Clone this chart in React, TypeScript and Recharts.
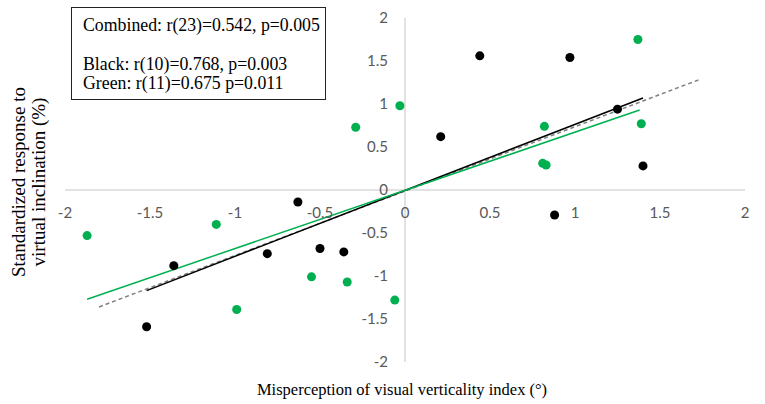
import React from "react";
import {
  ScatterChart,
  Scatter,
  XAxis,
  YAxis,
  ZAxis,
  ReferenceLine,
  ReferenceDot,
} from "recharts";

// black group (n=12)
const blackX = [0.44, 0.97, 0.21, 1.25, 1.4, 0.88, -0.63, -0.5, -0.36, -0.81, -1.36, -1.52];
const blackY = [1.56, 1.54, 0.62, 0.94, 0.28, -0.29, -0.14, -0.68, -0.72, -0.74, -0.88, -1.59];

// green group (n=13)
const greenX = [-0.03, -0.29, 1.37, 0.82, 1.39, 0.81, 0.83, -1.87, -1.11, -0.55, -0.34, -0.99, -0.06];
const greenY = [0.98, 0.73, 1.75, 0.74, 0.77, 0.31, 0.29, -0.53, -0.4, -1.01, -1.07, -1.39, -1.28];

// regression lines (start, end)
const blackFitX = [-1.52, 1.4];
const blackFitY = [-1.17, 1.07];
const greenFitX = [-1.87, 1.38];
const greenFitY = [-1.27, 0.93];
const combinedFitX = [-1.8, 1.74];
const combinedFitY = [-1.36, 1.29];

const xTicks = [-2, -1.5, -1, -0.5, 0, 0.5, 1, 1.5, 2];
const yTicks = [-2, -1.5, -1, -0.5, 0, 0.5, 1, 1.5, 2];

const statCombined = "Combined: r(23)=0.542, p=0.005";
const statBlack = "Black: r(10)=0.768, p=0.003";
const statGreen = "Green: r(11)=0.675 p=0.011";

const GREEN = "#00B050";
const tickFont = { fill: "#595959", fontSize: 15, fontFamily: "Lato" };

const blackData = blackX.map((x, i) => ({ x, y: blackY[i] }));
const greenData = greenX.map((x, i) => ({ x, y: greenY[i] }));

const seg = (xs: number[], ys: number[]) => [
  { x: xs[0], y: ys[0] },
  { x: xs[1], y: ys[1] },
];

const statStyle = (top: number): React.CSSProperties => ({
  position: "absolute",
  left: 11,
  top,
  transform: "translateY(-50%)",
  whiteSpace: "nowrap",
  lineHeight: "17px",
});

export default function App() {
  return (
    <div
      style={{
        position: "absolute",
        left: 0,
        top: 0,
        width: 765,
        height: 404,
        background: "#fff",
        fontFamily: "'Liberation Serif', 'Times New Roman', serif",
      }}
    >
      <ScatterChart
        width={765}
        height={404}
        margin={{ top: 18, right: 20, bottom: 42, left: 65 }}
      >
        <XAxis type="number" dataKey="x" domain={[-2, 2]} hide allowDataOverflow />
        <YAxis type="number" dataKey="y" domain={[-2, 2]} hide allowDataOverflow />
        <ZAxis range={[52, 52]} />
        <ReferenceLine y={0} stroke="#d9d9d9" strokeWidth={1.5} />
        <ReferenceLine x={0} stroke="#d9d9d9" strokeWidth={1.5} />
        {xTicks.map((t) => (
          <ReferenceDot
            key={"xt" + t}
            x={t}
            y={0}
            r={0}
            fill="none"
            stroke="none"
            label={{ value: String(t), position: "bottom", offset: 17, ...tickFont }}
          />
        ))}
        {yTicks.map((t) => (
          <ReferenceDot
            key={"yt" + t}
            x={0}
            y={t}
            r={0}
            fill="none"
            stroke="none"
            label={{ value: String(t), position: "left", offset: 17, ...tickFont }}
          />
        ))}
        <ReferenceLine
          segment={seg(combinedFitX, combinedFitY)}
          stroke="#808080"
          strokeWidth={1.5}
          strokeDasharray="4 3"
        />
        <ReferenceLine segment={seg(blackFitX, blackFitY)} stroke="#000" strokeWidth={1.5} />
        <ReferenceLine segment={seg(greenFitX, greenFitY)} stroke={GREEN} strokeWidth={1.5} />
        <Scatter data={blackData} fill="#000" isAnimationActive={false} />
        <Scatter data={greenData} fill={GREEN} isAnimationActive={false} />
      </ScatterChart>

      <div
        style={{
          position: "absolute",
          left: 71,
          top: 7,
          width: 255,
          height: 93,
          border: "1.5px solid #222",
          boxSizing: "border-box",
          fontSize: 17.8,
          color: "#000",
        }}
      >
        <div style={statStyle(17)}>{statCombined}</div>
        <div style={statStyle(56)}>{statBlack}</div>
        <div style={statStyle(75)}>{statGreen}</div>
      </div>

      <div
        style={{
          position: "absolute",
          left: 28.5,
          top: 182,
          transform: "translate(-50%, -50%) rotate(-90deg)",
          whiteSpace: "nowrap",
          textAlign: "center",
          fontSize: 19,
          lineHeight: "20px",
          color: "#000",
        }}
      >
        Standardized response to
        <br />
        virtual inclination (%)
      </div>

      <div
        style={{
          position: "absolute",
          left: 402,
          top: 390,
          transform: "translate(-50%, -50%)",
          whiteSpace: "nowrap",
          fontSize: 16.5,
          color: "#000",
        }}
      >
        Misperception of visual verticality index (°)
      </div>
    </div>
  );
}
